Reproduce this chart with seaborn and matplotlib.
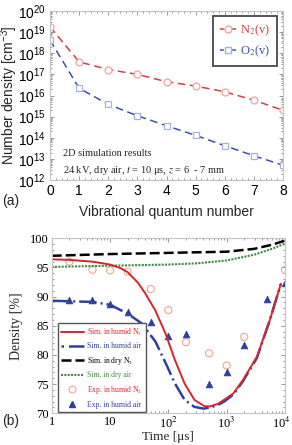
import matplotlib
matplotlib.use('Agg')
import matplotlib.pyplot as plt
import matplotlib.transforms as mtransforms
import seaborn as sns
import numpy as np
from matplotlib.lines import Line2D
from matplotlib.ticker import LogLocator, AutoMinorLocator, MultipleLocator, NullFormatter
from matplotlib.font_manager import FontProperties

# (a) vibrational populations
vib_levels = [0, 1, 2, 3, 4, 5, 6, 7, 8]
n2_density = [1.8e19, 3.9e17, 1.7e17, 1.0e17, 4.5e16, 2.8e16, 1.5e16, 6.0e15, 2.0e15]
o2_density = [4.2e18, 2.2e16, 3.8e15, 1.1e15, 3.7e14, 1.3e14, 4.2e13, 1.4e13, 5.0e12]

# (b) simulated gas density [%]
t_humid_n2 = [1, 2, 5, 10, 15, 20, 30, 40, 60, 90, 130, 190, 280, 420, 520, 700, 900, 1300, 1900, 3300, 5500, 8500]
sim_humid_n2 = [96.4, 96.3, 96.0, 95.5, 94.9, 94.2, 92.4, 90.6, 87.6, 83.6, 79.1, 75.1, 72.3, 71.2, 71.2, 71.6, 72.3, 73.4, 75.7, 79.7, 86.0, 92.2]
t_humid_air = [1, 2, 5, 10, 20, 35, 60, 90, 130, 190, 280, 400, 520, 700, 900, 1300, 1900, 3300, 5500, 8500]
sim_humid_air = [89.3, 89.2, 89.1, 88.6, 87.1, 85.4, 82.3, 78.6, 75.1, 72.3, 71.1, 70.8, 71.0, 71.4, 72.0, 73.2, 75.5, 79.5, 86.0, 92.2]
t_dry = [1, 10, 100, 300, 1000, 3000, 6000, 10000]
sim_dry_n2 = [97.0, 97.3, 97.5, 97.6, 97.7, 98.2, 98.9, 99.6]
sim_dry_air = [95.1, 95.3, 95.5, 95.7, 96.2, 97.2, 98.2, 99.1]

# (b) experiments
t_exp_n2 = [2, 5, 10, 20, 50, 100, 200, 500, 1000, 2000, 10000]
exp_humid_n2 = [96.0, 94.6, 94.5, 94.3, 91.3, 87.7, 82.2, 80.3, 78.2, 83.1, 94.6]
t_exp_air = [2, 5, 10, 20, 50, 100, 200, 500, 1000, 2000, 5000, 10000]
exp_humid_air = [89.4, 89.5, 88.7, 87.3, 85.6, 83.3, 83.6, 75.1, 77.0, 81.7, 89.6, 92.4]

sns.set_style("ticks")
plt.rcParams['font.family'] = ['Liberation Sans', 'DejaVu Sans']
plt.rcParams['mathtext.fontset'] = 'custom'
plt.rcParams['mathtext.rm'] = 'Liberation Sans'
plt.rcParams['mathtext.it'] = 'Liberation Sans:italic'
plt.rcParams['xtick.direction'] = 'in'
plt.rcParams['ytick.direction'] = 'in'

SERIF = ['Liberation Serif', 'DejaVu Serif']
frame_col = '#c4c4c4'

fig = plt.figure(figsize=(2.92, 4.45), dpi=100)

# ---------------- panel (a)
ax1 = fig.add_axes([50 / 292, 1 - 180 / 445, 233 / 292, 169 / 445])
red_line, red_mk = '#d2403f', '#f0a3a3'
blue_line, blue_mk = '#3b4fb5', '#a8b0e0'
sns.lineplot(x=vib_levels, y=n2_density, ax=ax1, color=red_line, linestyle=(0, (5, 3)), linewidth=1.1)
sns.lineplot(x=vib_levels, y=o2_density, ax=ax1, color=blue_line, linestyle=(0, (5, 3)), linewidth=1.1)
ax1.plot(vib_levels, n2_density, 'o', ms=5, mfc='white', mec=red_mk, mew=0.9)
ax1.plot(vib_levels, o2_density, 's', ms=4.5, mfc='white', mec=blue_mk, mew=0.9)
ax1.set_yscale('log')
ax1.set_ylim(1e12, 1e20)
ax1.set_xlim(0, 8)
ax1.set_xticks(range(0, 9))
ax1.set_yticks([10.0 ** k for k in range(12, 21)])
ax1.yaxis.set_minor_locator(LogLocator(base=10, subs=np.arange(2, 10) * 1.0, numticks=20))
ax1.yaxis.set_minor_formatter(NullFormatter())
ax1.xaxis.set_minor_locator(AutoMinorLocator(5))
ax1.tick_params(which='both', top=True, right=True, colors='#888888', labelcolor='black', labelsize=10, width=0.6)
ax1.tick_params(which='major', length=3, pad=3)
ax1.tick_params(which='minor', length=1.5)
for s in ax1.spines.values():
    s.set_color(frame_col)
    s.set_linewidth(0.8)
ax1.set_xlabel('Vibrational quantum number', fontsize=10)
ax1.set_ylabel('Number density [cm$^{-3}$]', fontsize=10)
ax1.yaxis.set_label_coords(-0.128, 0.5)
ax1.xaxis.set_label_coords(0.5, -0.145)

h_n2 = Line2D([], [], color=red_line, linestyle=(0, (2.5, 1.5)), lw=1.1, marker='o', ms=5, mfc='white', mec=red_mk)
h_o2 = Line2D([], [], color=blue_line, linestyle=(0, (2.5, 1.5)), lw=1.1, marker='s', ms=4.5, mfc='white', mec=blue_mk)
leg1 = ax1.legend([h_n2, h_o2], ['N$_2$(v)', 'O$_2$(v)'], loc='upper right', bbox_to_anchor=(0.975, 0.97),
                  prop=FontProperties(family=SERIF, size=9, math_fontfamily='stix'),
                  labelcolor=[red_line, blue_line], handlelength=1.3, handletextpad=0.3,
                  fancybox=False, framealpha=1, borderpad=0.55, labelspacing=0.45, borderaxespad=0.0)
leg1.get_frame().set_edgecolor('#555555')
leg1.get_frame().set_linewidth(1.4)

ax1.text(0.055, 0.14, '2D simulation results', transform=ax1.transAxes, fontsize=7.5, family=SERIF)
ax1.text(0.055, 0.04, r'24 kV, dry air, $t$ = 10 μs, $z$ = 6  - 7 mm', transform=ax1.transAxes,
         fontsize=7.5, family=SERIF, math_fontfamily='stix')
fig.text(2 / 292, 1 - 201 / 445, '(a)', fontsize=10, va='center')

# ---------------- panel (b)
ax2 = fig.add_axes([51.7 / 292, 1 - 413.3 / 445, 233.3 / 292, 175 / 445])
c_red, c_blue, c_green = '#d8252a', '#2f3f9f', '#3f8f3f'
sns.lineplot(x=t_dry, y=sim_dry_n2, ax=ax2, color='black', linestyle=(0, (4, 1.6)), linewidth=1.8)
sns.lineplot(x=t_dry, y=sim_dry_air, ax=ax2, color=c_green, linestyle=(0, (1, 0.6)), linewidth=1.5)
sns.lineplot(x=t_humid_air, y=sim_humid_air, ax=ax2, color=c_blue, linestyle=(0, (7, 1.6, 0.8, 1.6)), linewidth=1.8)
sns.lineplot(x=t_humid_n2, y=sim_humid_n2, ax=ax2, color=c_red, linewidth=1.4)
sns.scatterplot(x=t_exp_n2, y=exp_humid_n2, ax=ax2, marker='o', s=26, facecolor='none', edgecolor='#f2a58c', linewidth=0.8)
sns.scatterplot(x=t_exp_air, y=exp_humid_air, ax=ax2, marker='^', s=24, color=c_blue, edgecolor=c_blue, linewidth=0.5)
ax2.set_xscale('log')
ax2.set_xlim(1, 1e4)
ax2.set_ylim(70, 100)
ax2.set_xticks([1, 10, 100, 1000, 10000])
ax2.set_xticklabels(['1', '10', '10$^2$', '10$^3$', '10$^4$'])
ax2.xaxis.set_minor_locator(LogLocator(base=10, subs=np.arange(2, 10) * 1.0, numticks=20))
ax2.xaxis.set_minor_formatter(NullFormatter())
ax2.yaxis.set_major_locator(MultipleLocator(5))
ax2.yaxis.set_minor_locator(MultipleLocator(1))
ax2.tick_params(which='both', top=True, right=True, colors='#888888', labelcolor='black', labelsize=9, width=0.6)
ax2.tick_params(which='major', length=3, pad=2)
ax2.tick_params(which='minor', length=1.5)
for lab in ax2.get_xticklabels() + ax2.get_yticklabels():
    lab.set_family(SERIF)
    lab.set_math_fontfamily('stix')
# keep the last time label inside the figure
last = ax2.get_xticklabels()[-1]
last.set_transform(last.get_transform() + mtransforms.ScaledTranslation(-4 / 100, 0, fig.dpi_scale_trans))
for s in ax2.spines.values():
    s.set_color(frame_col)
    s.set_linewidth(0.8)
ax2.set_xlabel('Time [μs]', fontsize=9.5, family=SERIF)
ax2.set_ylabel('Density [%]', fontsize=10, family=SERIF)
ax2.xaxis.set_label_coords(0.5, -0.1)
ax2.yaxis.set_label_coords(-0.125, 0.5)

handles = [
    Line2D([], [], color=c_red, lw=1.4),
    Line2D([], [], color=c_blue, lw=1.8, linestyle=(0, (1, 2, 8, 1))),
    Line2D([], [], color='black', lw=1.8, linestyle=(0, (4, 1.6))),
    Line2D([], [], color=c_green, lw=1.5, linestyle=(0, (1, 0.6))),
    Line2D([], [], linestyle='none', marker='o', ms=5, mfc='none', mec='#f2a58c', mew=0.8),
    Line2D([], [], linestyle='none', marker='^', ms=5, color=c_blue),
]
labels = ['Sim. in humid N$_2$', 'Sim. in humid air', 'Sim. in dry N$_2$', 'Sim. in dry air',
          'Exp. in humid N$_2$', 'Exp. in humid air']
leg2 = ax2.legend(handles, labels, loc='lower left', bbox_to_anchor=(0.025, 0.005),
                  prop=FontProperties(family=SERIF, size=5.5, math_fontfamily='stix'),
                  labelcolor=[c_red, c_blue, 'black', c_green, c_red, c_blue],
                  handlelength=2.9, handletextpad=0.45, fancybox=False, framealpha=1,
                  borderpad=0.5, labelspacing=0.6, borderaxespad=0.0)
leg2.get_frame().set_edgecolor('#555555')
leg2.get_frame().set_linewidth(1.0)
fig.text(2 / 292, 1 - 421 / 445, '(b)', fontsize=10, va='center')

fig.savefig('out.png', dpi=100)
plt.close(fig)
